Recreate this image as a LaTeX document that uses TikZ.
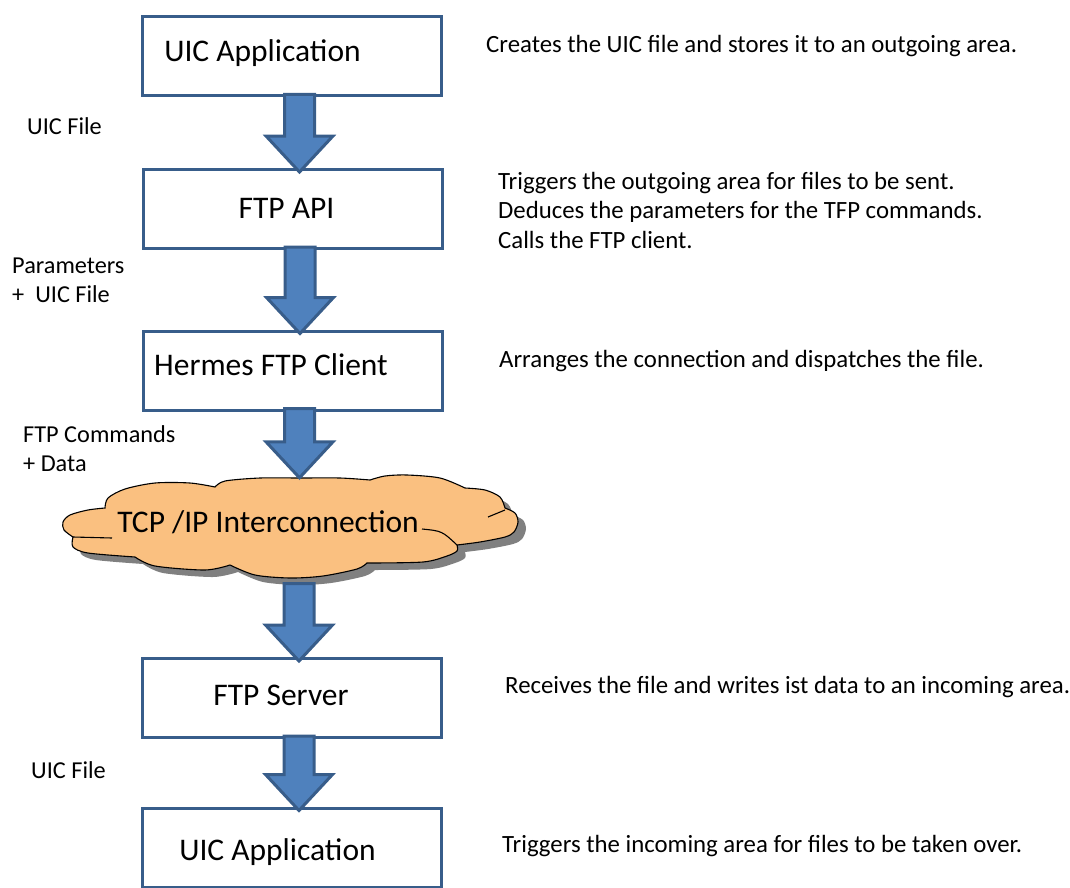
\documentclass[tikz,border=0pt]{standalone}
\usepackage{fontspec}
\setmainfont{Carlito}
\usetikzlibrary{calc,shadows}

\definecolor{boxline}{RGB}{56,93,138}
\definecolor{arrowfill}{RGB}{79,129,189}
\definecolor{cloudfill}{RGB}{250,192,128}

% block arrow: shaft starts at #1, tip ends just below #2
\newcommand{\blockarrow}[2]{%
  \draw[flowarrow] let \p1=(#1), \p2=(#2) in
    (\x2-8pt,\y1+3pt) -- (\x2+22pt,\y1+3pt) -- (\x2+22pt,\y2+32pt)
    -- (\x2+40.5pt,\y2+32pt) -- (\x2+7pt,\y2-4pt) -- (\x2-26.5pt,\y2+32pt)
    -- (\x2-8pt,\y2+32pt) -- cycle;
}

\begin{document}
\begin{tikzpicture}[x=1pt,y=-1pt,
    box/.style={draw=boxline, line width=3pt, fill=white, minimum width=299pt,
      minimum height=79pt, inner sep=0pt},
    boxtext/.style={font=\fontsize{31.5}{38}\selectfont},
    note/.style={anchor=west, inner sep=0pt, align=left,
      font=\fontsize{24.8}{29.5}\selectfont},
    flowlabel/.style={anchor=west, inner sep=0pt, align=left,
      font=\fontsize{24.3}{29}\selectfont},
    flowarrow/.style={draw=boxline, fill=arrowfill, line width=3pt},
    cloudline/.style={draw=black, line width=1.1pt, fill=cloudfill,
      drop shadow={shadow xshift=8pt, shadow yshift=-7pt, fill=black!50, opacity=1}},
    cloudarea/.style={minimum width=454pt, minimum height=100pt, inner sep=0pt}]
  \useasboundingbox (0,0) rectangle (1070,888);

  % the network cloud
  \draw[cloudline] (73,537)
    -- plot[smooth] coordinates {(73,537) (64,530) (63,522) (70,515) (88,510) (105,508)}
    -- plot[smooth] coordinates {(105,508) (108,498) (125,489) (155,483) (190,483) (215,487)}
    -- plot[smooth] coordinates {(215,487) (225,481) (260,478) (300,478) (340,478) (370,480)}
    -- plot[smooth] coordinates {(370,480) (385,476) (407,475) (440,478) (465,488)}
    -- plot[smooth] coordinates {(465,488) (485,490) (500,497) (505,508)}
    -- plot[smooth] coordinates {(505,508) (515,513) (518,522) (514,532) (505,537) (480,542) (457,545)}
    -- plot[smooth] coordinates {(457,545) (457,551) (447,556) (423,562) (367,563)}
    -- plot[smooth] coordinates {(367,563) (357,569) (323,576) (290,578) (255,575) (230,565)}
    -- plot[smooth] coordinates {(230,565) (205,570) (155,566) (135,557)}
    -- plot[smooth] coordinates {(135,557) (88,553) (73,547) (73,537)}
    -- cycle;
  \draw[line width=1.1pt] (73,537) -- (112,538);
  \draw[line width=1.1pt] (422,529) .. controls (442,531) .. (457,545);
  \draw[line width=1.1pt] (488,517) -- (505,510);

  % the chain
  \node[box, label={[boxtext, xshift=-29.5, yshift=3]center:UIC Application}] (appout) at (292,56.5) {};
  \node[box, label={[boxtext, xshift=-6, yshift=1]center:FTP API}] (api) at (292.5,209) {};
  \node[box, label={[boxtext, xshift=-22, yshift=5.5]center:Hermes FTP Client}] (client) at (293,370.5) {};
  \node[cloudarea, label={[boxtext, xshift=-22, yshift=4.5]center:TCP /IP Interconnection}] (tcpip) at (290,526.5) {};
  \node[box, label={[boxtext, xshift=-11, yshift=3]center:FTP Server}] (server) at (292,698) {};
  \node[box, label={[boxtext, xshift=-14.5, yshift=-4.5]center:UIC Application}] (appin) at (292,847.5) {};

  \blockarrow{appout.south}{api.north}
  \blockarrow{api.south}{client.north}
  \blockarrow{client.south}{[xshift=2.5pt, yshift=2.5pt]tcpip.north}
  \blockarrow{[yshift=-10pt]tcpip.south}{server.north}
  \blockarrow{server.south}{appin.north}

  % what travels
  \node[flowlabel] (lbl1) at (27,126.5) {UIC File};
  \node[flowlabel] (lbl2) at (12,280.5) {Parameters\\+\ \ UIC File};
  \node[flowlabel] (lbl3) at (23,448.5) {FTP Commands\\+ Data};
  \node[flowlabel] (lbl4) at (31,770.5) {UIC File};

  % what each step does
  \node[note] (n1) at (486,46.5) {Creates the UIC file and stores it to an outgoing area.};
  \node[note] (n2) at (498,210) {Triggers the outgoing area for files to be sent.\\
    Deduces the parameters for the TFP commands.\\Calls the FTP client.};
  \node[note] (n3) at (499,361) {Arranges the connection and dispatches the file.};
  \node[note] (n4) at (505,687) {Receives the file and writes ist data to an incoming area.};
  \node[note] (n5) at (502,846) {Triggers the incoming area for files to be taken over.};
\end{tikzpicture}
\end{document}
